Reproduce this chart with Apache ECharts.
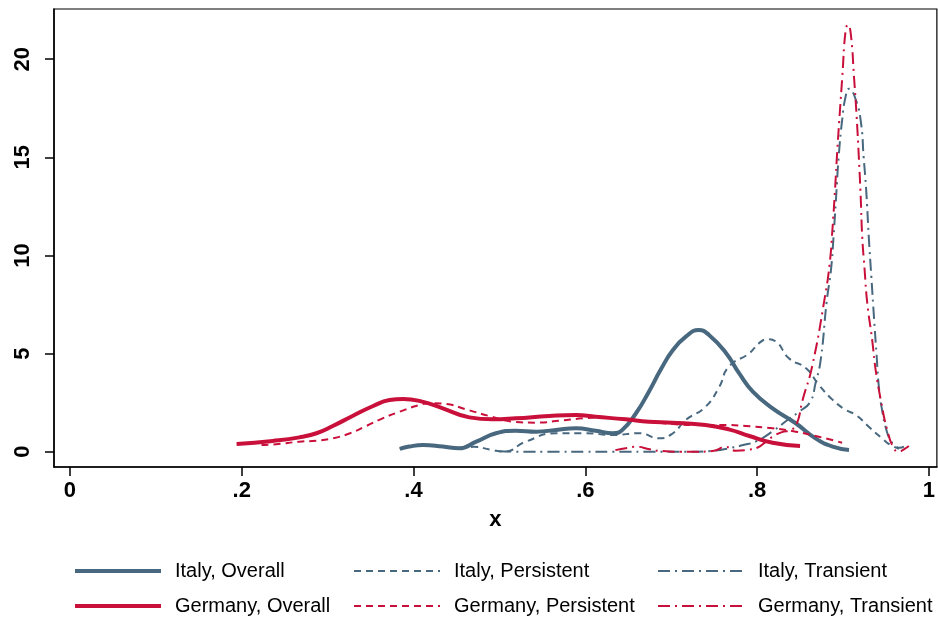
<!DOCTYPE html>
<html>
<head>
<meta charset="utf-8">
<script src="https://cdn.jsdelivr.net/npm/echarts@6/dist/echarts.min.js"></script>
<style>
  html, body { margin: 0; padding: 0; background: #fff; }
  #chart { width: 938px; height: 618px; }
</style>
</head>
<body>
<div id="chart"></div>
<script>
// Kernel density estimates: [x, density] pairs per group and component
const italyOverall = [
  [0.384, 0.14], [0.395, 0.26], [0.411, 0.34], [0.434, 0.26], [0.453, 0.17],
  [0.473, 0.51], [0.496, 0.94], [0.519, 1.07], [0.543, 1.02], [0.566, 1.11],
  [0.589, 1.19], [0.612, 1.07], [0.632, 0.94], [0.643, 1.11], [0.659, 1.96],
  [0.674, 3.06], [0.688, 4.2], [0.702, 5.18], [0.717, 5.86], [0.732, 6.2],
  [0.744, 5.95], [0.764, 5.02], [0.779, 4.0], [0.795, 3.06], [0.818, 2.21],
  [0.845, 1.45], [0.868, 0.68], [0.888, 0.26], [0.907, 0.09]
];
const italyPersistent = [
  [0.384, 0.14], [0.395, 0.26], [0.411, 0.34], [0.434, 0.26], [0.453, 0.17],
  [0.47, 0.25], [0.49, 0.1], [0.506, 0.0], [0.53, 0.5], [0.566, 0.94],
  [0.6, 0.94], [0.632, 0.85], [0.663, 0.94], [0.686, 0.68], [0.702, 0.94],
  [0.717, 1.62], [0.74, 2.29], [0.756, 3.31], [0.767, 4.33], [0.791, 5.02],
  [0.802, 5.52], [0.812, 5.73], [0.822, 5.61], [0.837, 4.76], [0.857, 4.25],
  [0.872, 3.4], [0.888, 2.64], [0.903, 2.13], [0.915, 1.87], [0.932, 1.19],
  [0.945, 0.7], [0.955, 0.35], [0.965, 0.15]
];
const italyTransient = [
  [0.5, 0.02], [0.53, 0.0], [0.56, 0.0], [0.6, 0.0], [0.64, 0.0], [0.68, 0.0],
  [0.72, 0.0], [0.75, 0.05], [0.77, 0.2], [0.785, 0.35], [0.8, 0.55],
  [0.82, 1.1], [0.835, 1.6], [0.849, 2.04], [0.862, 2.55], [0.868, 3.49],
  [0.874, 4.67], [0.881, 7.65], [0.886, 9.26], [0.889, 10.96], [0.892, 13.0],
  [0.895, 15.04], [0.899, 16.9], [0.903, 18.09], [0.907, 18.5], [0.915, 17.93],
  [0.921, 16.74], [0.924, 15.04], [0.927, 13.34], [0.93, 10.96], [0.933, 8.92],
  [0.936, 6.9], [0.939, 5.0], [0.942, 3.2], [0.946, 2.0], [0.95, 1.2],
  [0.955, 0.6], [0.96, 0.35], [0.966, 0.2], [0.971, 0.26]
];
const germanyOverall = [
  [0.194, 0.39], [0.236, 0.55], [0.267, 0.73], [0.287, 0.94], [0.306, 1.31],
  [0.329, 1.82], [0.353, 2.33], [0.372, 2.63], [0.388, 2.69], [0.41, 2.55],
  [0.434, 2.21], [0.465, 1.75], [0.492, 1.65], [0.519, 1.7], [0.558, 1.82],
  [0.589, 1.87], [0.612, 1.78], [0.647, 1.65], [0.674, 1.53], [0.701, 1.48],
  [0.74, 1.36], [0.767, 1.14], [0.791, 0.8], [0.818, 0.46], [0.85, 0.29]
];
const germanyPersistent = [
  [0.223, 0.34], [0.24, 0.38], [0.267, 0.51], [0.287, 0.56], [0.306, 0.68],
  [0.326, 0.94], [0.345, 1.31], [0.364, 1.7], [0.384, 2.04], [0.407, 2.38],
  [0.419, 2.47], [0.438, 2.43], [0.461, 2.16], [0.488, 1.82], [0.516, 1.53],
  [0.543, 1.48], [0.57, 1.58], [0.597, 1.7], [0.62, 1.75], [0.647, 1.62],
  [0.674, 1.53], [0.702, 1.41], [0.733, 1.36], [0.76, 1.36], [0.787, 1.31],
  [0.818, 1.19], [0.845, 1.02], [0.872, 0.76], [0.899, 0.46]
];
const germanyTransient = [
  [0.635, 0.08], [0.65, 0.2], [0.66, 0.25], [0.675, 0.12], [0.69, 0.03],
  [0.71, 0.0], [0.73, 0.0], [0.75, 0.05], [0.763, 0.25], [0.775, 0.05],
  [0.79, 0.1], [0.8, 0.2], [0.81, 0.5], [0.818, 0.76], [0.829, 1.0],
  [0.839, 1.1], [0.846, 1.4], [0.853, 2.64], [0.864, 4.33], [0.879, 7.9],
  [0.8845, 9.59], [0.8876, 11.26], [0.8907, 13.34], [0.8934, 15.38],
  [0.8965, 17.41], [0.8992, 19.11], [0.9031, 21.49], [0.9058, 21.75],
  [0.909, 21.32], [0.9128, 19.11], [0.9159, 17.07], [0.9186, 14.87],
  [0.9206, 13.0], [0.9224, 10.96], [0.9252, 9.26], [0.9283, 7.56],
  [0.934, 5.69], [0.938, 4.17], [0.944, 2.64], [0.9515, 1.1], [0.9593, 0.17],
  [0.9651, 0.0], [0.9709, 0.12], [0.9767, 0.29]
];

const xTicks = [0, 0.2, 0.4, 0.6, 0.8, 1];
const xTickLabels = ['0', '.2', '.4', '.6', '.8', '1'];
const yTicks = [0, 5, 10, 15, 20];
const yTickLabels = ['0', '5', '10', '15', '20'];

const names = {
  io: 'Italy, Overall', ip: 'Italy, Persistent', it: 'Italy, Transient',
  go: 'Germany, Overall', gp: 'Germany, Persistent', gt: 'Germany, Transient'
};

const BLUE = '#48687f';
const RED = '#c9103a';
const FONT = '"Liberation Sans", Arial, Helvetica, sans-serif';
const DASH = [7, 5];
const DASHDOT = [12, 5, 2, 5];

function labelFor(ticks, labels) {
  return function (v) {
    for (let i = 0; i < ticks.length; i++) {
      if (Math.abs(ticks[i] - v) < 1e-9) return labels[i];
    }
    return '';
  };
}

function densitySeries(name, data, color, width, type) {
  return {
    name: name,
    type: 'line',
    data: data,
    smooth: 0.5,
    symbol: 'none',
    showSymbol: false,
    clip: true,
    lineStyle: { color: color, width: width, type: type, cap: 'butt' },
    itemStyle: { color: color },
    emphasis: { disabled: true }
  };
}

// one legend entry per component so each keys its own line width and place
function legendEntry(name, left, top, width) {
  return {
    left: left,
    top: top,
    padding: 0,
    itemWidth: 86,
    itemHeight: 20,
    selectedMode: false,
    data: [name],
    itemStyle: { color: 'rgba(0,0,0,0)', borderWidth: 0, opacity: 0 },
    lineStyle: { width: width },
    textStyle: { fontSize: 20, color: '#000', fontFamily: FONT, padding: [0, 0, 0, 9], lineHeight: 20 }
  };
}

const chart = echarts.init(document.getElementById('chart'), null, { renderer: 'canvas' });
chart.setOption({
  animation: false,
  backgroundColor: '#fff',
  grid: {
    left: 54, right: 0, top: 9, bottom: 151,
    show: true, borderColor: '#000', borderWidth: 1.2, backgroundColor: '#fff'
  },
  xAxis: {
    type: 'value',
    min: -0.0186,
    max: 1.0093,
    name: 'x',
    nameLocation: 'middle',
    nameGap: 42,
    nameTextStyle: { fontSize: 22, fontWeight: 'bold', color: '#000', fontFamily: FONT },
    axisLine: { show: true, onZero: false, lineStyle: { color: '#000', width: 1.5 } },
    axisTick: { show: true, length: 9, customValues: xTicks, lineStyle: { color: '#000', width: 1.5 } },
    axisLabel: {
      customValues: xTicks, formatter: labelFor(xTicks, xTickLabels),
      fontSize: 22, fontWeight: 'bold', color: '#000', fontFamily: FONT, margin: 13
    },
    splitLine: { show: false }
  },
  yAxis: {
    type: 'value',
    min: -0.78,
    max: 22.56,
    axisLine: { show: true, onZero: false, lineStyle: { color: '#000', width: 1.5 } },
    axisTick: { show: true, length: 9, customValues: yTicks, lineStyle: { color: '#000', width: 1.5 } },
    axisLabel: {
      customValues: yTicks, formatter: labelFor(yTicks, yTickLabels),
      rotate: 90, fontSize: 22, fontWeight: 'bold', color: '#000', fontFamily: FONT, margin: 20
    },
    splitLine: { show: false }
  },
  legend: [
    legendEntry(names.io, 73, 561, 4),
    legendEntry(names.ip, 353, 561, 2),
    legendEntry(names.it, 657, 561, 2),
    legendEntry(names.go, 73, 596, 4),
    legendEntry(names.gp, 353, 596, 2),
    legendEntry(names.gt, 657, 596, 2)
  ],
  series: [
    densitySeries(names.io, italyOverall, BLUE, 4, 'solid'),
    densitySeries(names.ip, italyPersistent, BLUE, 2, DASH),
    densitySeries(names.it, italyTransient, BLUE, 2, DASHDOT),
    densitySeries(names.go, germanyOverall, RED, 4, 'solid'),
    densitySeries(names.gp, germanyPersistent, RED, 2, DASH),
    densitySeries(names.gt, germanyTransient, RED, 2, DASHDOT)
  ]
});
</script>
</body>
</html>
